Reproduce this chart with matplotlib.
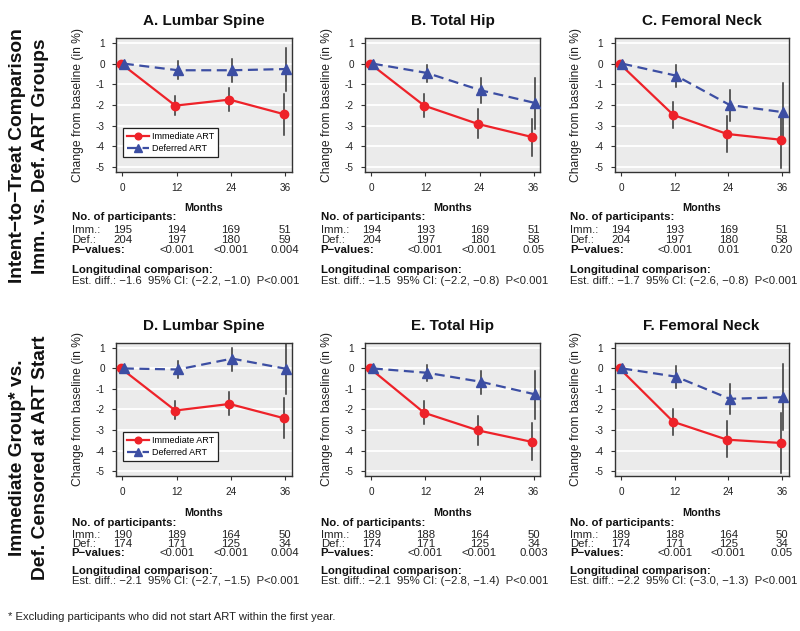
import matplotlib
matplotlib.use("Agg")
import matplotlib.pyplot as plt
import matplotlib.transforms as mtransforms

plt.rcParams['font.family'] = ['Liberation Sans', 'DejaVu Sans']
plt.rcParams['axes.unicode_minus'] = False

# ---------------- data ----------------
months = [0, 12, 24, 36]
titles = ["A. Lumbar Spine", "B. Total Hip", "C. Femoral Neck",
          "D. Lumbar Spine", "E. Total Hip", "F. Femoral Neck"]

imm_mean = [
    [0, -2.03, -1.74, -2.44],
    [0, -2.03, -2.92, -3.55],
    [0, -2.48, -3.40, -3.68],
    [0, -2.05, -1.73, -2.42],
    [0, -2.16, -3.02, -3.58],
    [0, -2.60, -3.47, -3.63],
]
imm_lo = [
    [0, -2.47, -2.30, -3.44],
    [0, -2.58, -3.60, -4.45],
    [0, -3.11, -4.27, -5.05],
    [0, -2.47, -2.29, -3.39],
    [0, -2.69, -3.71, -4.48],
    [0, -3.23, -4.32, -5.08],
]
imm_hi = [
    [0, -1.58, -1.18, -1.47],
    [0, -1.47, -2.18, -2.66],
    [0, -1.85, -2.52, -2.58],
    [0, -1.61, -1.16, -1.42],
    [0, -1.60, -2.31, -2.66],
    [0, -1.97, -2.58, -2.18],
]
def_mean = [
    [0, -0.32, -0.32, -0.26],
    [0, -0.45, -1.29, -1.90],
    [0, -0.58, -2.00, -2.35],
    [0, -0.05, 0.48, -0.02],
    [0, -0.21, -0.65, -1.26],
    [0, -0.40, -1.48, -1.40],
]
def_lo = [
    [0, -0.74, -0.90, -1.34],
    [0, -0.90, -1.90, -3.15],
    [0, -1.15, -2.79, -3.75],
    [0, -0.48, -0.13, -1.26],
    [0, -0.61, -1.24, -2.45],
    [0, -0.97, -2.21, -2.98],
]
def_hi = [
    [0, 0.11, 0.24, 0.76],
    [0, -0.08, -0.68, -0.70],
    [0, -0.05, -1.26, -0.94],
    [0, 0.35, 1.00, 1.30],
    [0, 0.16, -0.13, -0.11],
    [0, 0.13, -0.76, 0.21],
]
n_imm = [
    ["195", "194", "169", "51"],
    ["194", "193", "169", "51"],
    ["194", "193", "169", "51"],
    ["190", "189", "164", "50"],
    ["189", "188", "164", "50"],
    ["189", "188", "164", "50"],
]
n_def = [
    ["204", "197", "180", "59"],
    ["204", "197", "180", "58"],
    ["204", "197", "180", "58"],
    ["174", "171", "125", "34"],
    ["174", "171", "125", "34"],
    ["174", "171", "125", "34"],
]
p_values = [
    ["<0.001", "<0.001", "0.004"],
    ["<0.001", "<0.001", "0.05"],
    ["<0.001", "0.01", "0.20"],
    ["<0.001", "<0.001", "0.004"],
    ["<0.001", "<0.001", "0.003"],
    ["<0.001", "<0.001", "0.05"],
]
est_diff = ["\u22121.6", "\u22121.5", "\u22121.7", "\u22122.1", "\u22122.1", "\u22122.2"]
ci_text = ["(\u22122.2, \u22121.0)", "(\u22122.2, \u22120.8)", "(\u22122.6, \u22120.8)",
           "(\u22122.7, \u22121.5)", "(\u22122.8, \u22121.4)", "(\u22123.0, \u22121.3)"]
p_long = ["P<0.001"] * 6
row_labels = [("Intent\u2212to\u2212Treat Comparison", "Imm. vs. Def. ART Groups"),
              ("Immediate Group* vs.", "Def. Censored at ART Start")]
footnote = "* Excluding participants who did not start ART within the first year."

# ---------------- layout ----------------
W, H = 800, 631
fig = plt.figure(figsize=(W / 100, H / 100), dpi=100)

cols_px = [(116, 291.5), (365, 540), (614.5, 788.5)]
rows_px = [(38, 172), (343, 476)]
text_rows = [
    dict(months=208.5, nop=217.5, imm=230, dfr=240, p=250, lon=270, est=281.5),
    dict(months=513.5, nop=523.5, imm=534.5, dfr=544, p=553.5, lon=570.5, est=581),
]

RED = "#EE2229"
BLUE = "#3C4EA3"
ERR = "#333333"
BG = "#EBEBEB"

def fy(y):
    return 1 - y / H

dodge = 0.3
for idx in range(6):
    r, c = divmod(idx, 3)
    x0, x1 = cols_px[c]
    t0, b0 = rows_px[r]
    ax = fig.add_axes([x0 / W, fy(b0), (x1 - x0) / W, (b0 - t0) / H])
    ax.set_facecolor(BG)
    ax.set_xlim(-1.44, 37.44)
    ax.set_ylim(-5.24, 1.24)
    for yv in range(-5, 2):
        ax.axhline(yv, color="white", lw=1.3, zorder=0.5)
    for s in ax.spines.values():
        s.set_color("#333333")
        s.set_linewidth(1.0)
    ax.set_xticks(months)
    ax.set_yticks(range(-5, 2))
    ax.tick_params(direction="out", length=3, width=0.8, colors="#333333",
                   labelsize=7.2, labelcolor="#222222")
    ax.tick_params(axis="x", pad=5)
    ax.tick_params(axis="y", pad=5)
    ax.set_ylabel("Change from baseline (in %)", fontsize=8.7, color="#222222",
                  va="center")
    ax.yaxis.set_label_coords(-38.0 / (x1 - x0), 0.5)

    xi = [m - dodge for m in months]
    xd = [m + dodge for m in months]
    # error bars
    for k in range(1, 4):
        ax.plot([xi[k], xi[k]], [imm_lo[idx][k], imm_hi[idx][k]], color=ERR, lw=1.1, zorder=2)
        ax.plot([xd[k], xd[k]], [def_lo[idx][k], def_hi[idx][k]], color=ERR, lw=1.1, zorder=2)
    ax.plot(xi, imm_mean[idx], color=RED, lw=1.6, marker="o", ms=6, mec=RED, mfc=RED,
            zorder=3, label="Immediate ART")
    ax.plot(xd, def_mean[idx], color=BLUE, lw=1.6, ls=(0, (4.5, 2.5)), marker="^", ms=6.5,
            mec=BLUE, mfc=BLUE, zorder=3, label="Deferred ART")

    if c == 0:
        leg = ax.legend(loc="lower left", bbox_to_anchor=(0.04, 0.112), borderaxespad=0,
                        fontsize=6.5, numpoints=1, handlelength=2.4, fancybox=False,
                        framealpha=1, edgecolor="#222222", borderpad=0.45,
                        labelspacing=0.35, handletextpad=0.35, markerscale=0.8)
        leg.get_frame().set_linewidth(0.9)

    ax.text(0.5, 1 + 17.3 / (b0 - t0), titles[idx], transform=ax.transAxes,
            ha="center", va="center", fontsize=11, fontweight="bold", color="#111111")

    tr = mtransforms.blended_transform_factory(ax.transData, fig.transFigure)
    tp = text_rows[r]
    lx = (x0 - 44.3) / W
    fs = 8.2
    ax.text(18, fy(tp["months"]), "Months", transform=tr, ha="center", va="center",
            fontsize=7.8, fontweight="bold", color="#111111")
    fig.text(lx, fy(tp["nop"]), "No. of participants:", ha="left", va="center",
             fontsize=fs, fontweight="bold", color="#111111")
    fig.text(lx, fy(tp["imm"]), "Imm.:", ha="left", va="center", fontsize=fs, color="#222222")
    fig.text(lx, fy(tp["dfr"]), "Def.:", ha="left", va="center", fontsize=fs, color="#222222")
    fig.text(lx, fy(tp["p"]), "P\u2212values:", ha="left", va="center",
             fontsize=fs, fontweight="bold", color="#111111")
    for k in range(4):
        ax.text(months[k], fy(tp["imm"]), n_imm[idx][k], transform=tr, ha="center",
                va="center", fontsize=fs, color="#222222")
        ax.text(months[k], fy(tp["dfr"]), n_def[idx][k], transform=tr, ha="center",
                va="center", fontsize=fs, color="#222222")
    for k in range(3):
        ax.text(months[k + 1], fy(tp["p"]), p_values[idx][k], transform=tr, ha="center",
                va="center", fontsize=fs, color="#222222")
    fig.text(lx, fy(tp["lon"]), "Longitudinal comparison:", ha="left", va="center",
             fontsize=fs, fontweight="bold", color="#111111")
    fig.text(lx, fy(tp["est"]),
             "Est. diff.: %s  95%% CI: %s  %s" % (est_diff[idx], ci_text[idx], p_long[idx]),
             ha="left", va="center", fontsize=fs, color="#222222")

# row labels
for r, (l1, l2) in enumerate(row_labels):
    cy = [156, 458][r]
    fig.text(18 / W, fy(cy), l1, rotation=90, ha="center", va="center",
             fontsize=13.8, fontweight="bold", color="#111111")
    fig.text(41 / W, fy(cy), l2, rotation=90, ha="center", va="center",
             fontsize=13.8, fontweight="bold", color="#111111")

fig.text(8 / W, fy(617), footnote, ha="left", va="center", fontsize=8.1, color="#222222")

fig.savefig("out.png", dpi=100)
